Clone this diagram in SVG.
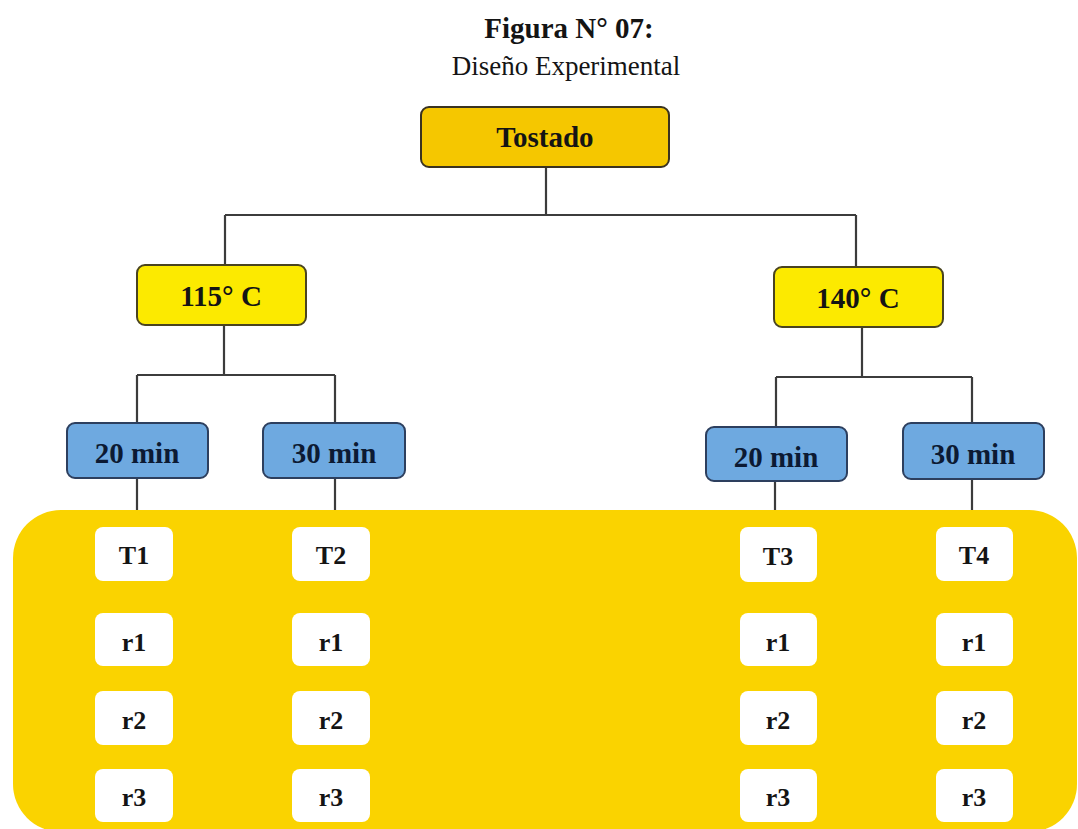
<svg xmlns="http://www.w3.org/2000/svg" width="1078" height="829" viewBox="0 0 1078 829">
  <style>
    text { font-family: "Liberation Serif", "Times New Roman", serif; text-anchor: middle; fill: #141414; }
    .title { font-size: 29px; font-weight: bold; }
    .subtitle { font-size: 27px; }
    .lbl { font-size: 29px; font-weight: bold; }
    .small { font-size: 26px; font-weight: bold; }
    .gold { fill: #F5C700; stroke: #3a3320; stroke-width: 2; }
    .yellow { fill: #FCEA00; stroke: #4a4420; stroke-width: 2; }
    .blue { fill: #6EA9E0; stroke: #2d3f5e; stroke-width: 2; }
    .blue-t { fill: #0c1a33; }
    .cell { fill: #FFFFFF; }
    .conn { fill: none; stroke: #3c3c3c; stroke-width: 2.2; }
  </style>

  <rect width="1078" height="829" fill="#FFFFFF"/>

  <!-- heading -->
  <text class="title" x="569" y="38">Figura N° 07:</text>
  <text class="subtitle" x="566" y="75">Diseño Experimental</text>

  <!-- tree connectors -->
  <g id="connectors">
    <path class="conn" d="M546 167 V215 M225 215 H856 M225 215 V265 M856 215 V267"/>
    <path class="conn" d="M224 325 V375 M137 375 H335 M137 375 V423 M335 375 V423"/>
    <path class="conn" d="M862 327 V377 M776 377 H972 M776 377 V427 M972 377 V423"/>
    <path class="conn" d="M137 478 V512 M335 478 V512 M775 481 V512 M972 479 V512"/>
  </g>

  <!-- treatment panel -->
  <g id="panel">
    <rect x="13" y="510" width="1064" height="322" rx="48" fill="#FAD300"/>
  </g>

  <g id="tostado">
    <rect class="gold" x="421" y="107" width="248" height="60" rx="8"/>
    <text class="lbl" x="545" y="147">Tostado</text>
  </g>

  <g id="t115">
    <rect class="yellow" x="137" y="265" width="169" height="60" rx="8"/>
    <text class="lbl" x="221" y="306">115° C</text>
  </g>
  <g id="t140">
    <rect class="yellow" x="774" y="267" width="169" height="60" rx="8"/>
    <text class="lbl" x="858" y="308">140° C</text>
  </g>

  <g id="m20a">
    <rect class="blue" x="67" y="423" width="141" height="55" rx="8"/>
    <text class="lbl blue-t" x="137" y="463">20 min</text>
  </g>
  <g id="m30a">
    <rect class="blue" x="263" y="423" width="142" height="55" rx="8"/>
    <text class="lbl blue-t" x="334" y="463">30 min</text>
  </g>
  <g id="m20b">
    <rect class="blue" x="706" y="427" width="141" height="54" rx="8"/>
    <text class="lbl blue-t" x="776" y="467">20 min</text>
  </g>
  <g id="m30b">
    <rect class="blue" x="903" y="423" width="141" height="56" rx="8"/>
    <text class="lbl blue-t" x="973" y="464">30 min</text>
  </g>

  <!-- treatment columns -->
  <g id="col1">
    <rect class="cell" x="95" y="527" width="78" height="54" rx="8"/>
    <text class="small" x="134" y="564">T1</text>
    <rect class="cell" x="95" y="613" width="78" height="53" rx="8"/>
    <text class="small" x="134" y="651">r1</text>
    <rect class="cell" x="95" y="691" width="78" height="54" rx="8"/>
    <text class="small" x="134" y="729">r2</text>
    <rect class="cell" x="95" y="769" width="78" height="53" rx="8"/>
    <text class="small" x="134" y="806">r3</text>
  </g>
  <g id="col2">
    <rect class="cell" x="292" y="527" width="78" height="54" rx="8"/>
    <text class="small" x="331" y="564">T2</text>
    <rect class="cell" x="292" y="613" width="78" height="53" rx="8"/>
    <text class="small" x="331" y="651">r1</text>
    <rect class="cell" x="292" y="691" width="78" height="54" rx="8"/>
    <text class="small" x="331" y="729">r2</text>
    <rect class="cell" x="292" y="769" width="78" height="53" rx="8"/>
    <text class="small" x="331" y="806">r3</text>
  </g>
  <g id="col3">
    <rect class="cell" x="740" y="527" width="77" height="55" rx="8"/>
    <text class="small" x="778" y="565">T3</text>
    <rect class="cell" x="740" y="613" width="77" height="53" rx="8"/>
    <text class="small" x="778" y="651">r1</text>
    <rect class="cell" x="740" y="691" width="77" height="54" rx="8"/>
    <text class="small" x="778" y="729">r2</text>
    <rect class="cell" x="740" y="769" width="77" height="53" rx="8"/>
    <text class="small" x="778" y="806">r3</text>
  </g>
  <g id="col4">
    <rect class="cell" x="936" y="527" width="77" height="54" rx="8"/>
    <text class="small" x="974" y="564">T4</text>
    <rect class="cell" x="936" y="613" width="77" height="53" rx="8"/>
    <text class="small" x="974" y="651">r1</text>
    <rect class="cell" x="936" y="691" width="77" height="54" rx="8"/>
    <text class="small" x="974" y="729">r2</text>
    <rect class="cell" x="936" y="769" width="77" height="53" rx="8"/>
    <text class="small" x="974" y="806">r3</text>
  </g>
</svg>
